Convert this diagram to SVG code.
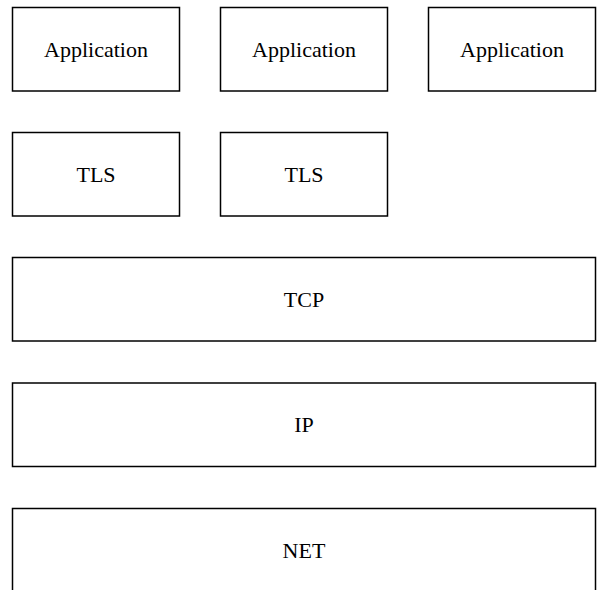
<svg xmlns="http://www.w3.org/2000/svg" width="597" height="590" viewBox="0 0 597 590">
  <style>
    .box { fill: #ffffff; stroke: #000000; stroke-width: 1.5; }
    .lbl { font-family: "Liberation Serif", "Times New Roman", serif; font-size: 22px; fill: #000000; text-anchor: middle; }
  </style>
  <rect x="0" y="0" width="597" height="590" fill="#ffffff"/>
  <g id="app1">
    <rect class="box" x="12.5" y="7.5" width="167" height="83.5"/>
    <text class="lbl" x="96" y="56.5">Application</text>
  </g>
  <g id="app2">
    <rect class="box" x="220.5" y="7.5" width="167" height="83.5"/>
    <text class="lbl" x="304" y="56.5">Application</text>
  </g>
  <g id="app3">
    <rect class="box" x="428.5" y="7.5" width="167" height="83.5"/>
    <text class="lbl" x="512" y="56.5">Application</text>
  </g>
  <g id="tls1">
    <rect class="box" x="12.5" y="132.5" width="167" height="83.5"/>
    <text class="lbl" x="96" y="181.5">TLS</text>
  </g>
  <g id="tls2">
    <rect class="box" x="220.5" y="132.5" width="167" height="83.5"/>
    <text class="lbl" x="304" y="181.5">TLS</text>
  </g>
  <g id="tcp">
    <rect class="box" x="12.5" y="257.5" width="583" height="83.5"/>
    <text class="lbl" x="304" y="306.5">TCP</text>
  </g>
  <g id="ip">
    <rect class="box" x="12.5" y="383" width="583" height="83.5"/>
    <text class="lbl" x="304" y="432">IP</text>
  </g>
  <g id="net">
    <rect class="box" x="12.5" y="508.5" width="583" height="83.5"/>
    <text class="lbl" x="304" y="557.5">NET</text>
  </g>
  <g id="connectors"></g>
</svg>
